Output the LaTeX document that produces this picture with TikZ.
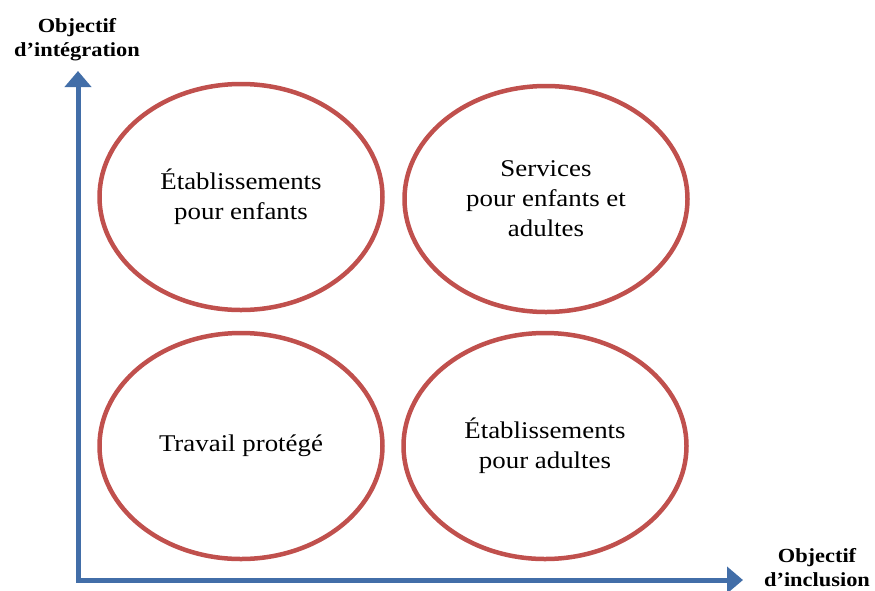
\documentclass[tikz,border=0pt]{standalone}
\usepackage{fontspec}
\setmainfont{Liberation Serif}[FakeStretch=1.12]
\usetikzlibrary{shapes.geometric,arrows.meta}

\definecolor{axisblue}{RGB}{66,110,168}
\definecolor{ringred}{RGB}{192,80,77}

\tikzset{
  ring/.style={draw=ringred, line width=4.5pt, ellipse, minimum width=283pt, minimum height=226pt, align=center, font=\fontsize{24}{30}\selectfont},
  axis/.style={draw=axisblue, line width=5pt, {Triangle[width=26pt,length=16pt]}-{Triangle[width=26pt,length=16pt]}},
  axislabel/.style={align=center, font=\bfseries\fontsize{20}{24}\selectfont}
}

\begin{document}
\begin{tikzpicture}[x=1pt,y=-1pt]
\useasboundingbox (0,0) rectangle (875,590);

\coordinate (o) at (78,580);
\coordinate (ytip) at (78,71);
\coordinate (xtip) at (743,580);
\path[axis] (ytip) -- (o) -- (xtip);

\node[axislabel] (ylab) at (77,40) {Objectif\\d’intégration};
\node[axislabel] (xlab) at (817,568) {Objectif\\d’inclusion};

\node[ring] (enfants) at (241,197) {Établissements\\pour enfants};
\node[ring] (services) at (546,199) {Services\\pour enfants et\\adultes};
\node[ring] (travail) at (241,446) {Travail protégé};
\node[ring] (adultes) at (545,446) {Établissements\\pour adultes};
\end{tikzpicture}
\end{document}
